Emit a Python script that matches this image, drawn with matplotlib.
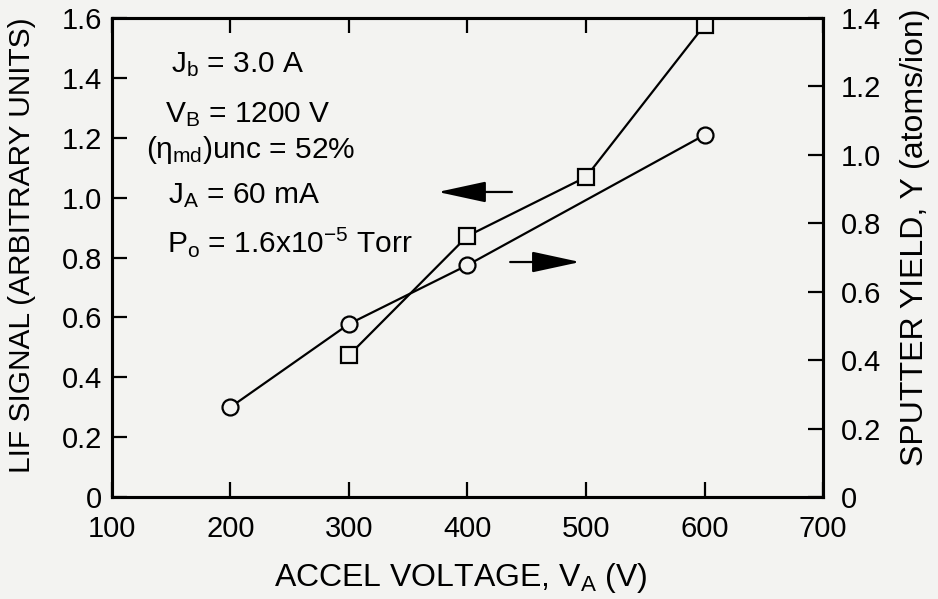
import numpy as np
import matplotlib
matplotlib.use('Agg')
import matplotlib.pyplot as plt

# LIF signal (left axis, squares)
lif_volt = [300, 400, 500, 600]
lif_signal = [0.474, 0.872, 1.069, 1.576]

# sputter yield (right axis, circles)
yield_volt = [200, 300, 400, 600]
sputter_yield = [0.263, 0.506, 0.678, 1.058]

x_ticks = [100, 200, 300, 400, 500, 600, 700]
left_ticks = [0, 0.2, 0.4, 0.6, 0.8, 1.0, 1.2, 1.4, 1.6]
left_labels = ['0', '0.2', '0.4', '0.6', '0.8', '1.0', '1.2', '1.4', '1.6']
right_ticks = [0, 0.2, 0.4, 0.6, 0.8, 1.0, 1.2, 1.4]
right_labels = ['0', '0.2', '0.4', '0.6', '0.8', '1.0', '1.2', '1.4']

bg = '#f3f3f1'
plt.rcParams['font.family'] = ['Liberation Sans', 'DejaVu Sans']
plt.rcParams['mathtext.fontset'] = 'custom'
plt.rcParams['mathtext.rm'] = 'Liberation Sans'
plt.rcParams['mathtext.it'] = 'Liberation Sans'
plt.rcParams['mathtext.sf'] = 'Liberation Sans'

fig = plt.figure(figsize=(9.38, 5.99), dpi=100, facecolor=bg)
ax = fig.add_axes([0.1194, 0.170, 0.758, 0.800], facecolor=bg)
ax2 = ax.twinx()

ax.plot(lif_volt, lif_signal, color='black', lw=1.6, marker='s', ms=11.5,
        mfc=bg, mec='black', mew=1.6, zorder=3)
ax2.plot(yield_volt, sputter_yield, color='black', lw=1.6, marker='o', ms=11.5,
         mfc=bg, mec='black', mew=1.6, zorder=3)

ax.set_xlim(100, 700)
ax.set_ylim(0, 1.6)
ax2.set_ylim(0, 1.4)

ax.set_xticks(x_ticks)
ax.set_xticklabels([str(v) for v in x_ticks])
ax.set_yticks(left_ticks)
ax.set_yticklabels(left_labels)
ax2.set_yticks(right_ticks)
ax2.set_yticklabels(right_labels)

ax.tick_params(axis='both', direction='in', length=11, width=1.6, labelsize=21,
               top=True)
ax.tick_params(axis='y', pad=7)
ax.tick_params(axis='x', pad=13)
ax2.tick_params(axis='y', direction='in', length=11, width=1.6, labelsize=21, pad=13)

for a in (ax, ax2):
    for s in a.spines.values():
        s.set_linewidth(2.2)

ax.set_xlabel('ACCEL VOLTAGE, V$_\\mathrm{A}$ (V)', fontsize=23, va='center')
ax.set_ylabel('LIF SIGNAL (ARBITRARY UNITS)', fontsize=21.5, va='center')
ax2.set_ylabel('SPUTTER YIELD, Y (atoms/ion)', fontsize=23, va='center')
ax.xaxis.set_label_coords(0.491, -0.169)
ax.yaxis.set_label_coords(-0.127, 0.526)
ax2.yaxis.set_label_coords(1.13, 0.543)

# conditions text
notes = ['J$_\\mathrm{b}$ = 3.0 A',
         'V$_\\mathrm{B}$ = 1200 V',
         '($\\eta_\\mathrm{md}$)unc = 52%',
         'J$_\\mathrm{A}$ = 60 mA',
         'P$_\\mathrm{o}$ = 1.6x10$^{-5}$ Torr']
note_x = [150, 145, 129, 147, 146]
note_y = [1.42, 1.252, 1.132, 0.982, 0.818]
for t, xx, yy in zip(notes, note_x, note_y):
    ax.text(xx, yy, t, fontsize=21.5, ha='left', va='baseline')

# arrows pointing to the axes
ax.annotate('', xy=(375, 1.019), xytext=(437.5, 1.019),
            arrowprops=dict(arrowstyle='-|>,head_length=3.0,head_width=0.65',
                            color='black', lw=1.6, shrinkA=0, shrinkB=0))
ax2.annotate('', xy=(495, 0.687), xytext=(436, 0.687),
             arrowprops=dict(arrowstyle='-|>,head_length=3.0,head_width=0.65',
                             color='black', lw=1.6, shrinkA=0, shrinkB=0))

fig.savefig('out.png', dpi=100, facecolor=bg)
